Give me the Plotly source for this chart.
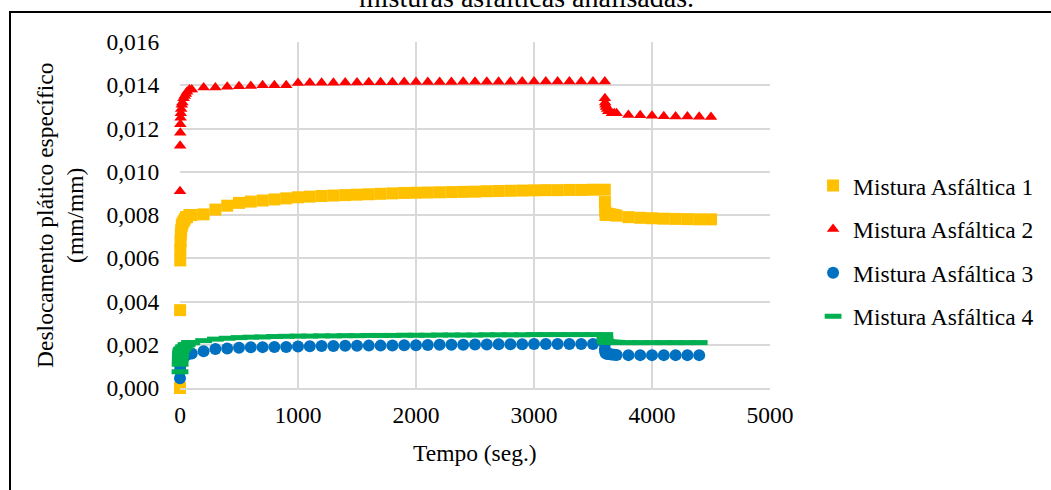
import plotly.graph_objects as go

# Time stamps (s): dense during the first seconds of loading and right after unloading
tempo_longo = [0, 1, 2, 3, 5, 7, 10, 15, 20, 30, 40, 50, 60, 80, 100,
               200, 300, 400, 500, 600, 700, 800, 900, 1000, 1100, 1200, 1300,
               1400, 1500, 1600, 1700, 1800, 1900, 2000, 2100, 2200, 2300, 2400,
               2500, 2600, 2700, 2800, 2900, 3000, 3100, 3200, 3300, 3400, 3500, 3600,
               3601, 3603, 3606, 3610, 3620, 3630, 3645, 3660, 3680, 3700,
               3800, 3900, 4000, 4100, 4200, 4300, 4400, 4500]
tempo_curto = tempo_longo[:-1]

# Specific plastic displacement (mm/mm) for each asphalt mixture
mistura_1 = [0.0000, 0.0036, 0.0059, 0.0064, 0.0068, 0.0071, 0.0073, 0.0075, 0.0076,
             0.0077, 0.0078, 0.0079, 0.0079, 0.0080, 0.0080,
             0.00803, 0.00825, 0.00843, 0.00856, 0.00862, 0.00867, 0.00872, 0.00877,
             0.00882, 0.00885, 0.00888, 0.00890, 0.00892, 0.00894, 0.00896, 0.00898,
             0.00900, 0.00902, 0.00903, 0.00904, 0.00905, 0.00906, 0.00907, 0.00908,
             0.00910, 0.00911, 0.00912, 0.00913, 0.00914, 0.00915, 0.00915, 0.00916,
             0.00916, 0.00917, 0.00917,
             0.0086, 0.0082, 0.0080, 0.0080, 0.00806, 0.00805, 0.00803, 0.00801, 0.0080, 0.00797,
             0.00790, 0.00787, 0.00785, 0.00783, 0.00782, 0.00781, 0.00780, 0.00780]

mistura_2 = [0.0091, 0.0112, 0.0118, 0.0122, 0.0125, 0.0127, 0.0129, 0.0131, 0.0132,
             0.0134, 0.0135, 0.0136, 0.0137, 0.0138, 0.0138,
             0.0139, 0.0139, 0.01393, 0.01395, 0.01397, 0.0140, 0.0140, 0.0140,
             0.0141, 0.01411, 0.01412, 0.01412, 0.01413, 0.01413, 0.01414, 0.01414,
             0.01414, 0.01415, 0.01415, 0.01415, 0.01415, 0.01415, 0.01416, 0.01416,
             0.01416, 0.01416, 0.01416, 0.01417, 0.01417, 0.01417, 0.01417, 0.01417,
             0.01417, 0.01417, 0.01417,
             0.0134, 0.0132, 0.0131, 0.0130, 0.0129, 0.0128, 0.0128, 0.0127, 0.0127, 0.0127,
             0.01263, 0.01261, 0.01259, 0.01257, 0.01256, 0.01255, 0.01254, 0.01253]

mistura_3 = [0.00045, 0.0008, 0.0010, 0.0011, 0.0012, 0.0013, 0.0013, 0.0014, 0.0014,
             0.0015, 0.0015, 0.0015, 0.0016, 0.0016, 0.0016,
             0.0017, 0.0018, 0.00183, 0.00186, 0.00188, 0.00189, 0.0019, 0.0019,
             0.00192, 0.00193, 0.00194, 0.00194, 0.00195, 0.00195, 0.00196, 0.00196,
             0.00197, 0.00198, 0.00198, 0.00199, 0.0020, 0.0020, 0.0020, 0.00201,
             0.00201, 0.00202, 0.00202, 0.00202, 0.00203, 0.00203, 0.00203, 0.00203,
             0.00203, 0.00203, 0.00203,
             0.0018, 0.0017, 0.00163, 0.0016, 0.00158, 0.00157, 0.00156, 0.00155, 0.00154, 0.00153,
             0.00152, 0.00152, 0.00152, 0.00152, 0.00152, 0.00152, 0.00152]

mistura_4 = [0.00075, 0.0011, 0.0013, 0.0015, 0.0016, 0.0017, 0.00175, 0.0018, 0.0018,
             0.0019, 0.0019, 0.0020, 0.0020, 0.0021, 0.0021,
             0.00219, 0.00226, 0.0023, 0.00233, 0.00235, 0.00236, 0.00238, 0.00239,
             0.0024, 0.0024, 0.00241, 0.00241, 0.00242, 0.00242, 0.00243, 0.00243,
             0.00243, 0.00244, 0.00244, 0.00244, 0.00245, 0.00245, 0.00245, 0.00245,
             0.00246, 0.00246, 0.00246, 0.00246, 0.00247, 0.00247, 0.00247, 0.00247,
             0.00247, 0.00247, 0.00247,
             0.0023, 0.0022, 0.00215, 0.00213, 0.00212, 0.00212, 0.00212, 0.00211, 0.00211, 0.00211,
             0.0021, 0.0021, 0.0021, 0.0021, 0.0021, 0.0021, 0.0021]

nomes = ["Mistura Asfáltica 1", "Mistura Asfáltica 2",
         "Mistura Asfáltica 3", "Mistura Asfáltica 4"]

FONTE = "Liberation Serif, Times New Roman, serif"
TAM = 23.5

fig = go.Figure()
fig.add_trace(go.Scatter(x=tempo_longo, y=mistura_1, mode="markers", name=nomes[0],
                         legendgroup="1", cliponaxis=False,
                         marker=dict(symbol="square", size=12, color="#FFC000")))
fig.add_trace(go.Scatter(x=tempo_longo, y=mistura_2, mode="markers", name=nomes[1],
                         legendgroup="2", cliponaxis=False,
                         marker=dict(symbol="triangle-up", size=11, color="#FF0000")))
fig.add_trace(go.Scatter(x=tempo_curto, y=mistura_3, mode="markers", name=nomes[2],
                         legendgroup="3", cliponaxis=False,
                         marker=dict(symbol="circle", size=12, color="#0070C0")))
fig.add_trace(go.Scatter(x=tempo_curto, y=mistura_4, mode="markers", name=nomes[3],
                         legendgroup="4", cliponaxis=False,
                         marker=dict(symbol="line-ew", size=12,
                                     line=dict(color="#00B050", width=5))))

fig.update_layout(
    width=1051, height=490,
    margin=dict(l=180, r=281, t=42, b=102),
    paper_bgcolor="white", plot_bgcolor="white",
    separators=",.",
    font=dict(family=FONTE, size=TAM, color="black"),
    showlegend=True,
    legend=dict(x=1.073, y=0.648, xanchor="left", yanchor="top",
                font=dict(family=FONTE, size=TAM, color="black"),
                tracegroupgap=10, itemwidth=30, bgcolor="rgba(0,0,0,0)"),
    xaxis=dict(range=[0, 5000], dtick=1000, tickformat="d",
               showgrid=True, gridcolor="#d9d9d9", gridwidth=1.5,
               zeroline=False, showline=True, linecolor="#d9d9d9", linewidth=1.5,
               ticks="outside", ticklen=5, tickcolor="rgba(0,0,0,0)",
               tickfont=dict(family=FONTE, size=TAM, color="black")),
    yaxis=dict(range=[0, 0.016], dtick=0.002, tickformat=".3f",
               showgrid=True, gridcolor="#d9d9d9", gridwidth=1.5,
               zeroline=False, showline=False,
               ticks="outside", ticklen=15, tickcolor="rgba(0,0,0,0)",
               tickfont=dict(family=FONTE, size=TAM, color="black")),
)

# Axis titles
fig.add_annotation(text="Tempo (seg.)", xref="paper", yref="paper",
                   x=0.5, y=-0.188, xanchor="center", yanchor="middle",
                   showarrow=False, font=dict(family=FONTE, size=TAM, color="black"))
fig.add_annotation(text="Deslocamento plático específico<br>(mm/mm)",
                   xref="paper", yref="paper", x=-0.2035, y=0.5,
                   xanchor="center", yanchor="middle", textangle=-90,
                   showarrow=False, font=dict(family=FONTE, size=TAM, color="black"))

# Caption line above the frame
fig.add_annotation(text="misturas asfálticas analisadas.", xref="paper", yref="paper",
                   x=(526 - 180) / 590, y=1.078, xanchor="center", yanchor="bottom",
                   showarrow=False, font=dict(family=FONTE, size=28, color="black"))

# Black frame around the chart
fig.add_shape(type="rect", xref="paper", yref="paper",
              x0=(10 - 180) / 590, x1=(1070 - 180) / 590,
              y0=(388 - 520) / 346, y1=(388 - 12) / 346,
              line=dict(color="black", width=2), fillcolor="rgba(0,0,0,0)", layer="below")

fig.write_html("out.html")
